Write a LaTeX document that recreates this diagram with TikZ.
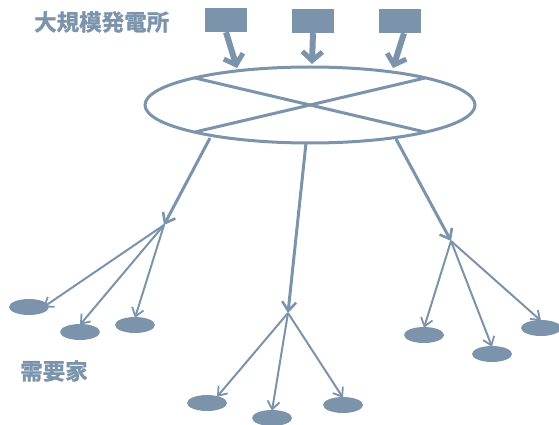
\documentclass[tikz,border=0pt]{standalone}
\usepackage{fontspec}
\newfontfamily\cjk[FakeBold=1.5]{Noto Sans CJK JP Bold}
\usetikzlibrary{arrows.meta,shapes.geometric}
\definecolor{sb}{HTML}{7C93AC}
\tikzset{
  plant/.style={draw=none,fill=sb,minimum width=42pt,minimum height=24pt,inner sep=0pt},
  user/.style={ellipse,draw=none,fill=sb,minimum width=40pt,minimum height=16pt,inner sep=0pt},
  bigarrow/.style={sb,line width=6pt,-{Straight Barb[length=9pt,width=20pt,line width=5pt]}},
  midarrow/.style={sb,line width=3pt,-{Straight Barb[length=9pt,width=14pt,line width=2.6pt]}},
  smallarrow/.style={sb,line width=2pt,-{Straight Barb[length=8pt,width=12pt,line width=1.8pt]}},
  lbl/.style={text=sb,font=\cjk\fontsize{22.5pt}{25pt}\selectfont,inner sep=0pt}
}
\begin{document}
\begin{tikzpicture}[x=1pt,y=-1pt]
\useasboundingbox (0,0) rectangle (559,425);
% labels
\node[lbl,anchor=west] (title) at (34,22) {大規模発電所};
\node[lbl,anchor=west] (cons) at (20,371) {需要家};
% plants
\node[plant] (p1) at (226,20) {};
\node[plant] (p2) at (313,21) {};
\node[plant] (p3) at (400,21) {};
% grid ring
\node[ellipse,draw=sb,line width=3pt,minimum width=330pt,minimum height=76pt,inner sep=0pt] (ring) at (310,105) {};
\coordinate (c1) at (195,78);
\coordinate (c2) at (425,132);
\coordinate (c3) at (195,132);
\coordinate (c4) at (425,78);
\draw[sb,line width=3pt] (c1) -- (c2);
\draw[sb,line width=3pt] (c3) -- (c4);
% plant arrows
\coordinate (t1) at (237,68);
\coordinate (t2) at (312,64);
\coordinate (t3) at (393,68);
\draw[bigarrow] (p1.south) -- (t1);
\draw[bigarrow] (p2.south) -- (t2);
\draw[bigarrow] ([xshift=4pt]p3.south) -- (t3);
% distribution hubs
\coordinate (s1) at (210,138);
\coordinate (s2) at (306,143);
\coordinate (s3) at (396,139);
\coordinate (h1) at (164,225);
\coordinate (h2) at (288,313);
\coordinate (h3) at (451,241);
\draw[midarrow] (s1) -- (h1);
\draw[midarrow] (s2) -- (h2);
\draw[midarrow] (s3) -- (h3);
% consumers
\node[user] (u1) at (29,307) {};
\node[user] (u2) at (80,332) {};
\node[user] (u3) at (135,325) {};
\node[user] (u4) at (207,403) {};
\node[user] (u5) at (272,418) {};
\node[user] (u6) at (343,405) {};
\node[user] (u7) at (424,335) {};
\node[user] (u8) at (492,354) {};
\node[user] (u9) at (541,328) {};
\draw[smallarrow] (h1) -- ([yshift=-6pt]u1.north east);
\draw[smallarrow] (h1) -- ([yshift=-1pt]u2.north);
\draw[smallarrow] (h1) -- ([yshift=-1pt]u3.north);
\draw[smallarrow] (h2) -- ([xshift=10pt,yshift=-2pt]u4.north);
\draw[smallarrow] (h2) -- ([yshift=-1pt]u5.north);
\draw[smallarrow] (h2) -- ([yshift=-1pt]u6.north);
\draw[smallarrow] (h3) -- ([yshift=-1pt]u7.north);
\draw[smallarrow] (h3) -- ([yshift=-1pt]u8.north);
\draw[smallarrow] (h3) -- ([yshift=-1pt]u9.north);
\end{tikzpicture}
\end{document}
